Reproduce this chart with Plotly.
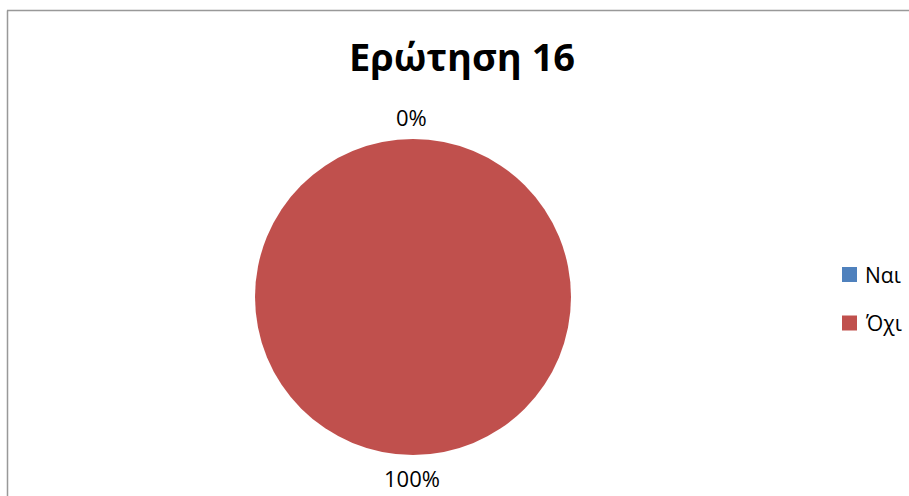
import plotly.graph_objects as go

# Survey answers for question 16
answers = ["Ναι", "Όχι"]
counts = [0, 100]
slice_colors = ["#4F81BD", "#C0504D"]
chart_title = "Ερώτηση 16"

W, H = 909, 496
FONT = "Open Sans"

total = sum(counts)
shares = [c / total for c in counts]

# pie placement in pixels (converted to paper fractions below)
cx, cy, r = 413, 297, 158

fig = go.Figure(go.Pie(
    labels=answers,
    values=counts,
    marker=dict(colors=slice_colors, line=dict(width=0)),
    sort=False,
    direction="clockwise",
    rotation=0,
    textinfo="none",
    hoverinfo="label+percent",
    showlegend=False,
    domain=dict(x=[(cx - r) / W, (cx + r) / W],
                y=[1 - (cy + r) / H, 1 - (cy - r) / H]),
))

annotations = [dict(
    text=f"<b>{chart_title}</b>", x=462 / W, y=1 - 56 / H,
    xref="paper", yref="paper", showarrow=False,
    xanchor="center", yanchor="middle",
    font=dict(family=FONT, size=38, color="#000000"),
)]

# percentage labels: the empty slice sits at the top, the full one underneath
label_specs = [(411, 117, "middle"), (412, 495, "bottom")]
for share, (lx, ly, anchor) in zip(shares, label_specs):
    annotations.append(dict(
        text=f"{share * 100:.0f}%", x=lx / W, y=1 - ly / H,
        xref="paper", yref="paper", showarrow=False,
        xanchor="center", yanchor=anchor,
        font=dict(family=FONT, size=22, color="#000000"),
    ))

# legend drawn as swatches + text
shapes = []
legend_rows = [274.5, 323]
for name, col, ry in zip(answers, slice_colors, legend_rows):
    shapes.append(dict(type="rect", xref="paper", yref="paper",
                       x0=842 / W, x1=857 / W,
                       y0=1 - (ry + 7.5) / H, y1=1 - (ry - 7.5) / H,
                       fillcolor=col, line=dict(width=0)))
    annotations.append(dict(
        text=name, x=863 / W, y=1 - ry / H,
        xref="paper", yref="paper", showarrow=False,
        xanchor="left", yanchor="middle",
        font=dict(family=FONT, size=21, color="#000000"),
    ))

# chart frame (left and top edges visible)
shapes.append(dict(type="line", xref="paper", yref="paper",
                   x0=7.5 / W, x1=7.5 / W, y0=0, y1=1 - 10.5 / H,
                   line=dict(color="#999999", width=1.5)))
shapes.append(dict(type="line", xref="paper", yref="paper",
                   x0=7 / W, x1=1, y0=1 - 10.5 / H, y1=1 - 10.5 / H,
                   line=dict(color="#999999", width=1.5)))

fig.update_layout(
    width=W, height=H,
    margin=dict(l=0, r=0, t=0, b=0),
    paper_bgcolor="white",
    plot_bgcolor="white",
    annotations=annotations,
    shapes=shapes,
)

fig.write_html("out.html")
